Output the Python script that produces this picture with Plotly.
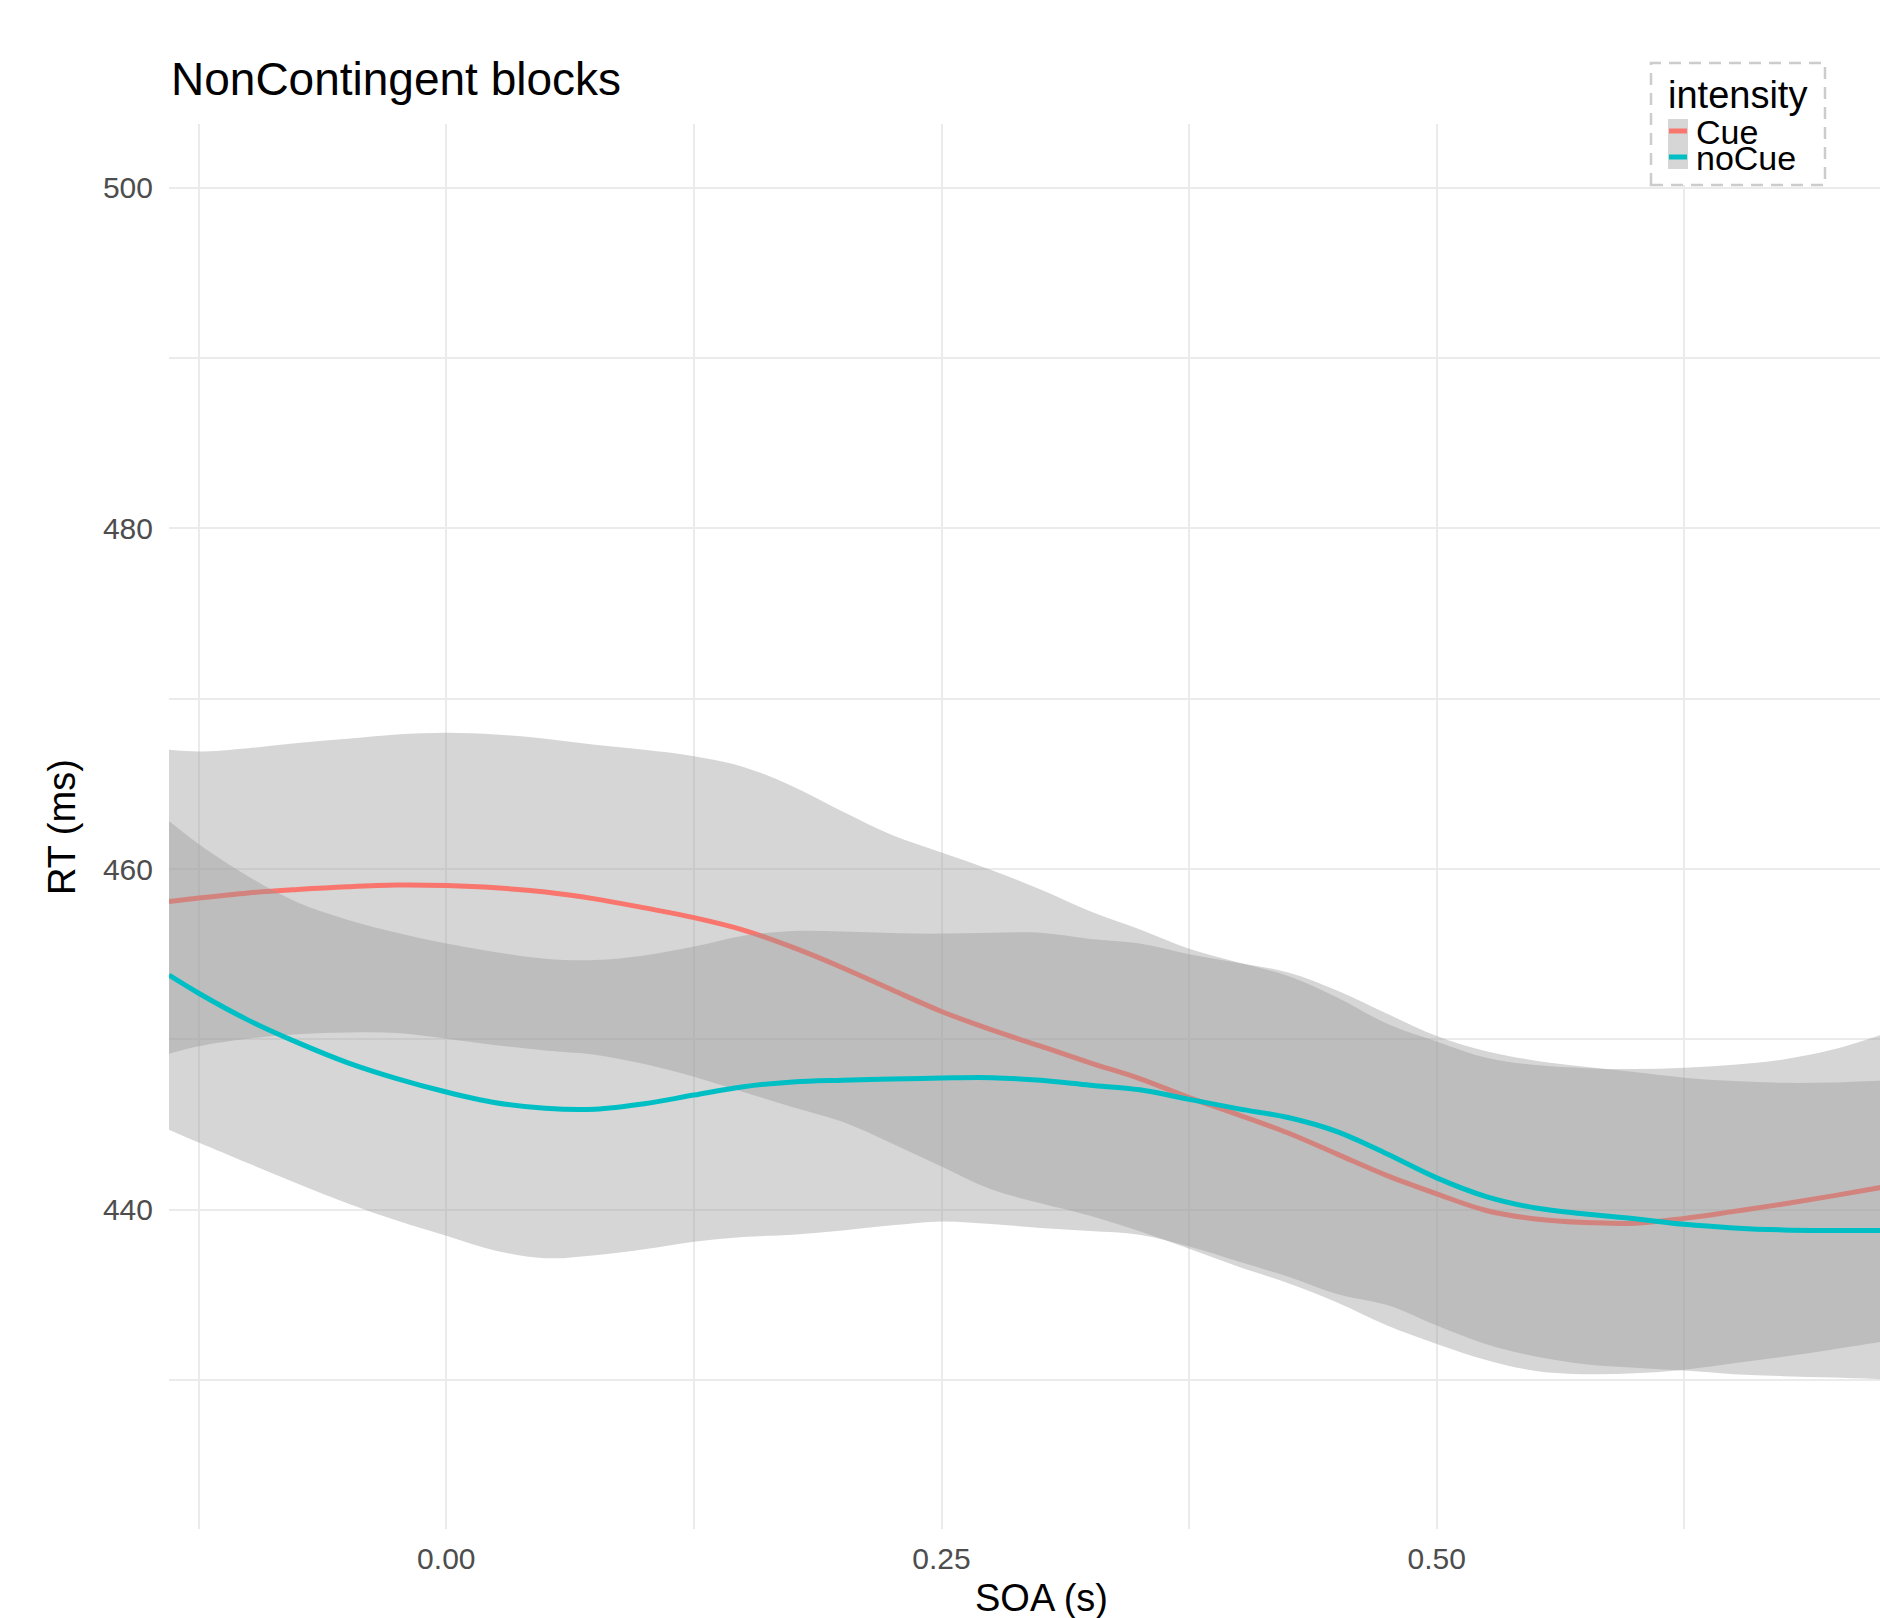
import plotly.graph_objects as go

# Smoothed RT by SOA with confidence bands, per cue condition
soa = [-0.14, -0.125, -0.1, -0.075, -0.05, -0.025, 0.0, 0.025, 0.05, 0.075,
       0.1, 0.125, 0.15, 0.175, 0.2, 0.225, 0.25, 0.275, 0.3, 0.325,
       0.35, 0.375, 0.4, 0.425, 0.45, 0.475, 0.5, 0.525, 0.55, 0.575,
       0.6, 0.625, 0.65, 0.675, 0.7, 0.725]

cue_fit = [458.09, 458.3, 458.6, 458.8, 458.96, 459.06, 459.03, 458.9, 458.65, 458.25,
           457.72, 457.15, 456.42, 455.4, 454.21, 452.91, 451.64, 450.57, 449.6, 448.62,
           447.7, 446.58, 445.57, 444.5, 443.25, 442.0, 440.93, 439.95, 439.45, 439.24,
           439.21, 439.49, 439.9, 440.33, 440.81, 441.32]
cue_hi = [467.0, 466.9, 467.1, 467.4, 467.65, 467.9, 468.0, 467.9, 467.65, 467.3,
          467.0, 466.63, 466.0, 464.85, 463.38, 462.0, 460.97, 459.95, 458.8, 457.53,
          456.47, 455.32, 454.51, 453.72, 452.45, 450.92, 449.88, 448.92, 448.49, 448.31,
          448.26, 448.34, 448.51, 448.82, 449.4, 450.29]
cue_lo = [449.15, 449.6, 450.04, 450.3, 450.4, 450.37, 450.04, 449.66, 449.35, 449.1,
          448.55, 447.8, 446.91, 446.02, 445.16, 443.89, 442.54, 441.2, 440.38, 439.65,
          438.73, 437.71, 436.65, 435.68, 434.54, 433.2, 432.12, 431.18, 430.53, 430.34,
          430.39, 430.6, 430.98, 431.36, 431.79, 432.25]

nocue_fit = [453.77, 452.71, 451.13, 449.81, 448.64, 447.7, 446.91, 446.28, 445.95, 445.9,
             446.22, 446.73, 447.22, 447.5, 447.6, 447.67, 447.73, 447.75, 447.6, 447.31,
             447.04, 446.48, 445.92, 445.41, 444.57, 443.27, 441.87, 440.77, 440.1, 439.75,
             439.47, 439.14, 438.93, 438.81, 438.78, 438.78]
nocue_hi = [462.82, 461.47, 459.57, 458.04, 457.03, 456.26, 455.63, 455.12, 454.74, 454.66,
            454.93, 455.45, 456.09, 456.37, 456.34, 456.24, 456.21, 456.26, 456.26, 455.9,
            455.63, 455.0, 454.49, 453.93, 452.86, 451.5, 450.2, 449.3, 448.75, 448.39,
            448.08, 447.75, 447.55, 447.45, 447.47, 447.57]
nocue_lo = [444.7, 443.94, 442.72, 441.52, 440.38, 439.36, 438.47, 437.59, 437.15, 437.33,
            437.68, 438.12, 438.4, 438.53, 438.78, 439.08, 439.31, 439.16, 438.93, 438.75,
            438.53, 437.84, 436.95, 436.06, 435.04, 434.4, 433.2, 432.1, 431.38, 430.93,
            430.72, 430.55, 430.34, 430.22, 430.14, 430.04]

series_names = ["Cue", "noCue"]
series_colors = ["#F8766D", "#00BFC4"]
legend_title = "intensity"

y_major = [440, 460, 480, 500]
y_minor = [430, 450, 470, 490]
x_major = [0.0, 0.25, 0.5]
x_major_text = ["0.00", "0.25", "0.50"]
x_minor = [-0.125, 0.125, 0.375, 0.625]

W, H = 1880, 1618
ML, MR, MT, MB = 169, 0, 124, 89
PW, PH = W - ML - MR, H - MT - MB
FONT = "Liberation Sans, Arial, Helvetica, sans-serif"
BAND = "rgba(153,153,153,0.4)"
GRID = "#EBEBEB"


def fx(px):
    return (px - ML) / PW


def fy(py):
    return (H - MB - py) / PH


fig = go.Figure()

series = [
    (series_names[0], series_colors[0], cue_fit, cue_lo, cue_hi),
    (series_names[1], series_colors[1], nocue_fit, nocue_lo, nocue_hi),
]
for name, color, fit, lo, hi in series:
    fig.add_trace(go.Scatter(x=soa, y=lo, mode="lines", line=dict(width=0, shape="spline"),
                             hoverinfo="skip", showlegend=False))
    fig.add_trace(go.Scatter(x=soa, y=hi, mode="lines", line=dict(width=0, shape="spline"),
                             fill="tonexty", fillcolor=BAND, hoverinfo="skip", showlegend=False))
    fig.add_trace(go.Scatter(x=soa, y=fit, mode="lines", name=name,
                             line=dict(color=color, width=5, shape="spline"), showlegend=False))

x0 = -0.14
px_per_x = 1980.8
fig.update_xaxes(
    range=[x0, x0 + PW / px_per_x],
    tickvals=x_major, ticktext=x_major_text,
    showgrid=True, gridcolor=GRID, gridwidth=2.4,
    minor=dict(tickvals=x_minor, showgrid=True, gridcolor=GRID, gridwidth=1.6),
    zeroline=False, showline=False, ticks="",
    tickfont=dict(family=FONT, size=30, color="#4D4D4D"),
    ticklabelstandoff=9,
)
fig.update_yaxes(
    range=[421.25, 503.75],
    tickvals=y_major,
    showgrid=True, gridcolor=GRID, gridwidth=2.4,
    minor=dict(tickvals=y_minor, showgrid=True, gridcolor=GRID, gridwidth=1.6),
    zeroline=False, showline=False, ticks="",
    tickfont=dict(family=FONT, size=30, color="#4D4D4D"),
    ticklabelstandoff=15,
)

annotations = [
    dict(text="NonContingent blocks", x=0, y=fy(79), xanchor="left", yanchor="middle",
         font=dict(family=FONT, size=46, color="black")),
    dict(text="SOA (s)", x=fx(1041), y=fy(1598), xanchor="center", yanchor="middle",
         font=dict(family=FONT, size=38, color="black")),
    dict(text="RT (ms)", x=fx(62), y=fy(827), xanchor="center", yanchor="middle",
         textangle=-90, font=dict(family=FONT, size=38, color="black")),
    dict(text=legend_title, x=fx(1666), y=fy(95), xanchor="left", yanchor="middle",
         font=dict(family=FONT, size=38, color="black")),
]
key_y = [131, 157]
for name, ky in zip(series_names, key_y):
    annotations.append(dict(text=name, x=fx(1694), y=fy(ky + 1), xanchor="left", yanchor="middle",
                            font=dict(family=FONT, size=34, color="black")))
for a in annotations:
    a.update(xref="paper", yref="paper", showarrow=False)

shapes = [
    dict(type="rect", xref="paper", yref="paper", x0=fx(1651), x1=fx(1825), y0=fy(185), y1=fy(63),
         line=dict(color="#CCCCCC", width=2.5, dash="12px,8px"), fillcolor="white", layer="above"),
    dict(type="rect", xref="paper", yref="paper", x0=fx(1668), x1=fx(1688), y0=fy(169), y1=fy(119),
         line=dict(width=0), fillcolor="#D6D6D6", layer="above"),
]
for color, ky in zip(series_colors, key_y):
    shapes.append(dict(type="line", xref="paper", yref="paper", x0=fx(1669), x1=fx(1687),
                       y0=fy(ky), y1=fy(ky), line=dict(color=color, width=5), layer="above"))

fig.update_layout(
    width=W, height=H,
    margin=dict(l=ML, r=MR, t=MT, b=MB),
    plot_bgcolor="white", paper_bgcolor="white",
    showlegend=False,
    annotations=annotations,
    shapes=shapes,
    font=dict(family=FONT),
)

fig.write_html("out.html")
